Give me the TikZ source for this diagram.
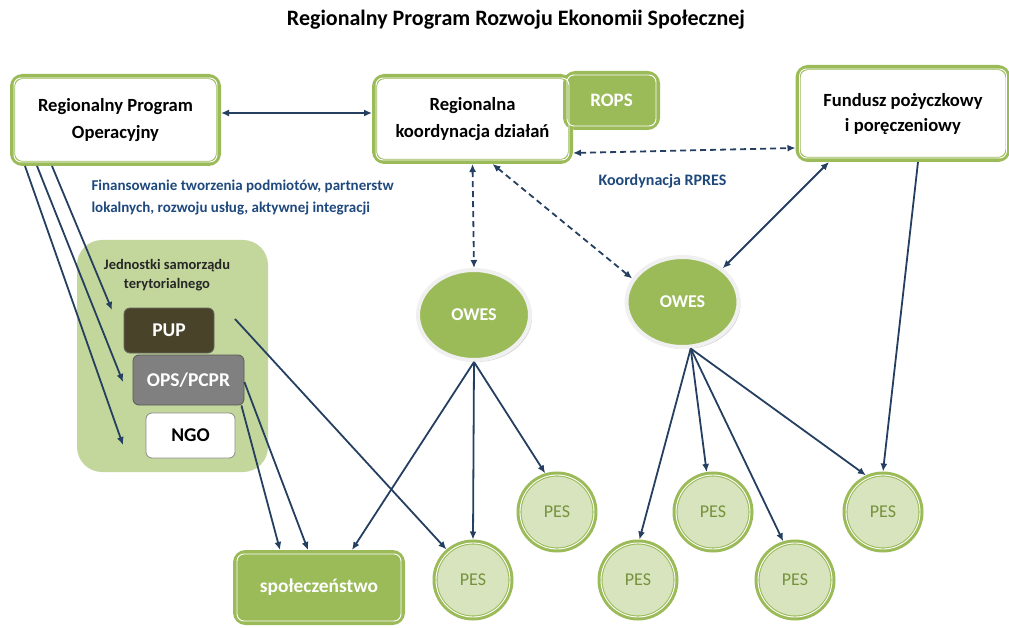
\documentclass[tikz,border=0pt]{standalone}
\usepackage{fontspec}
\setmainfont{Carlito}
\usetikzlibrary{arrows.meta,shapes.geometric,shadows}
\definecolor{gG}{HTML}{9BBB59}
\definecolor{gL}{HTML}{D7E4BD}
\definecolor{gGroup}{HTML}{C3D69B}
\definecolor{gText}{HTML}{76923C}
\definecolor{navy}{HTML}{243F60}
\definecolor{lblue}{HTML}{1F497D}
\definecolor{pupc}{HTML}{494429}
\begin{document}
\begin{tikzpicture}[x=1pt,y=-1pt,
  gbox/.style={draw=gG, line width=5pt, rounded corners=10pt, fill=white, align=center, font=\bfseries\fontsize{18.6}{27}\selectfont, inner sep=0pt},
  fbox/.style={gbox, fill=gG, text=white},
  innerline/.style={draw=white, line width=0.9pt, rounded corners=7pt},
  sbox/.style={rounded corners=6pt, inner sep=0pt, text=white, font=\bfseries\fontsize{19.5}{22}\selectfont},
  owes/.style={ellipse, fill=gG, draw=gray!12, line width=4pt, minimum width=112pt, minimum height=90pt, inner sep=0pt, text=white, font=\bfseries\fontsize{18}{20}\selectfont, drop shadow={opacity=0.35, shadow xshift=2pt, shadow yshift=-2pt}},
  pes/.style={circle, fill=gL, draw=gG, line width=5pt, minimum size=76pt, inner sep=0pt, text=gText, font=\fontsize{18}{20}\selectfont},
  arr/.style={draw=navy, line width=1.8pt, -{Latex[length=8pt,width=7pt]}},
  darr/.style={arr, {Latex[length=8pt,width=7pt]}-{Latex[length=8pt,width=7pt]}},
  dsh/.style={dash pattern=on 6pt off 4pt},
  lbl/.style={text=lblue, font=\bfseries\fontsize{15}{22}\selectfont, align=left}
]
\useasboundingbox (0,0) rectangle (1009,628);

\node[font=\bfseries\fontsize{22}{24}\selectfont] (title) at (516,20) {Regionalny Program Rozwoju Ekonomii Społecznej};

% top boxes
\node[gbox, minimum width=206pt, minimum height=87pt] (rpo) at (115.5,120) {Regionalny Program\\Operacyjny};
\node[gbox, minimum width=196pt, minimum height=85pt] (rkd) at (472.5,119) {Regionalna\\koordynacja działań};
\node[fbox, minimum width=92pt, minimum height=54pt, font=\bfseries\fontsize{19}{22}\selectfont] (rops) at (611.5,100.5) {ROPS};
\node[gbox, minimum width=210pt, minimum height=92pt, font=\bfseries\fontsize{18.6}{25}\selectfont] (fund) at (903,113.5) {Fundusz pożyczkowy\\i poręczeniowy};

% left group
\node[fill=gGroup, rounded corners=25pt, minimum width=191pt, minimum height=232pt, inner sep=0pt] (grp) at (172.5,356) {};
\node[font=\bfseries\fontsize{14.5}{19}\selectfont, text=black!85, align=center] (jst) at (167,275.5) {Jednostki samorządu\\terytorialnego};
\node[sbox, fill=pupc, draw=black!60, line width=0.8pt, minimum width=90pt, minimum height=45pt] (pup) at (169,330.5) {PUP};
\node[sbox, fill=black!50, draw=black!65, line width=0.8pt, minimum width=111pt, minimum height=50pt] (ops) at (188.5,380) {OPS/PCPR};
\node[sbox, fill=white, draw=black!45, line width=0.8pt, minimum width=89pt, minimum height=45pt, text=black] (ngo) at (190.5,435.5) {NGO};

% society
\node[fbox, minimum width=167pt, minimum height=70pt, font=\bfseries\fontsize{19.4}{22}\selectfont] (spol) at (319,587.5) {społeczeństwo};

% OWES
\node[owes] (owes1) at (474,315) {OWES};
\node[owes] (owes2) at (682.5,302) {OWES};

% PES
\node[pes] (p1) at (473,580) {PES};
\node[pes] (p2) at (557,512) {PES};
\node[pes] (p3) at (638,580) {PES};
\node[pes] (p4) at (713,512) {PES};
\node[pes] (p5) at (795,580) {PES};
\node[pes] (p6) at (883,512) {PES};

% inner white lines
\foreach \n in {rpo,rkd,rops,fund,spol}
  \draw[innerline] ([shift={(4,4)}]\n.north west) rectangle ([shift={(-4,-4)}]\n.south east);
\foreach \n in {p1,p2,p3,p4,p5,p6}
  \draw[draw=white, line width=0.9pt] (\n.center) circle (37);

% labels
\node[lbl, anchor=west] (fin) at (88,198) {Finansowanie tworzenia podmiotów, partnerstw\\lokalnych, rozwoju usług, aktywnej integracji};
\node[lbl, anchor=west, font=\bfseries\fontsize{16}{20}\selectfont] (koord) at (595,181) {Koordynacja RPRES};

% coordinates for free ends
\coordinate (c1) at (112,310);
\coordinate (c2) at (123,382);
\coordinate (c3) at (123,445);
\coordinate (s1) at (235,319);

% connectors
\draw[darr] ([yshift=7pt]rpo.east) -- ([yshift=6pt]rkd.west);
\draw[darr, dsh] ([yshift=-34pt]rkd.east) -- ([yshift=-34.5pt]fund.west);
\draw[darr, dsh] (rkd.south) -- (owes1.north);
\draw[darr, dsh] ([xshift=20pt]rkd.south) -- (owes2.155);
\draw[darr] ([xshift=-74pt]fund.south) -- (owes2.40);
\draw[arr] ([xshift=15pt]fund.south) -- (p6.north);

\draw[arr] ([xshift=42pt]rpo.south west) -- (c1);
\draw[arr] ([xshift=27pt]rpo.south west) -- (c2);
\draw[arr] ([xshift=15pt]rpo.south west) -- (c3);

\draw[arr] (s1) -- (p1.131);
\draw[arr] ([yshift=-2pt]ops.east) -- ([xshift=-11pt]spol.north);
\draw[arr] ([xshift=-3pt]ops.south east) -- ([xshift=-39pt]spol.north);

\draw[arr] (owes1.south) -- ([xshift=33pt]spol.north);
\draw[arr] (owes1.south) -- (p1.north);
\draw[arr] (owes1.south) -- (p2.107);

\draw[arr] (owes2.-80) -- (p3.88);
\draw[arr] (owes2.-80) -- (p4.99);
\draw[arr] (owes2.-80) -- (p5.107);
\draw[arr] (owes2.-80) -- (p6.115);
\end{tikzpicture}
\end{document}
